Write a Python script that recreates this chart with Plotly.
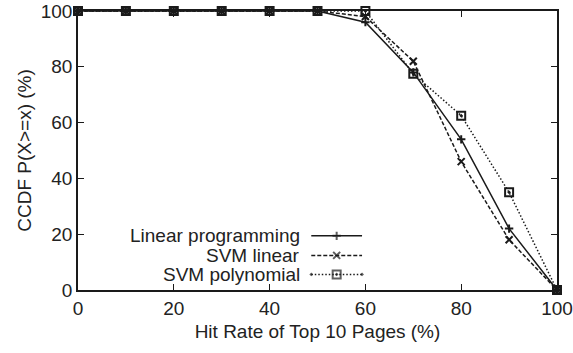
import plotly.graph_objects as go

x_vals = [0, 10, 20, 30, 40, 50, 60, 70, 80, 90, 100]
linear_prog = [100, 100, 100, 100, 100, 100, 96, 78, 54, 22, 0]
svm_linear = [100, 100, 100, 100, 100, 100, 98, 82, 46, 18, 0]
svm_poly = [100, 100, 100, 100, 100, 100, 100, 77.5, 62.5, 35, 0]

series_names = ["Linear programming", "SVM linear", "SVM polynomial"]
series_data = [linear_prog, svm_linear, svm_poly]
dashes = ["solid", "4px,2px", "1.5px,2px"]
symbols = ["cross-thin-open", "x-thin-open", "square-open-dot"]
sizes = [6, 7, 8]

col = "#1a1a1a"
fnt = dict(family="Liberation Sans, Arial, sans-serif", size=19, color="#222")

fig = go.Figure()
for name, ys, d, s, sz in zip(series_names, series_data, dashes, symbols, sizes):
    fig.add_trace(go.Scatter(
        x=x_vals, y=ys, mode="lines+markers", name=name,
        line=dict(color=col, width=1.5, dash=d),
        marker=dict(symbol=s, size=sz, color=col, line=dict(color=col, width=2)),
        showlegend=False, cliponaxis=False))

# custom legend: text on left, sample on right
leg_y = [0.194, 0.124, 0.056]
for name, ly, d, s, sz in zip(series_names, leg_y, dashes, symbols, sizes):
    fig.add_trace(go.Scatter(
        x=[0.487, 0.540, 0.593], y=[ly, ly, ly], xaxis="x2", yaxis="y2",
        mode="lines+markers", line=dict(color=col, width=1.5, dash=d),
        marker=dict(symbol=s, size=[0, sz, 0], color=col, line=dict(color=col, width=2)),
        showlegend=False, hoverinfo="skip"))
    fig.add_annotation(x=0.468, y=ly, xref="paper", yref="paper", text=name,
                       showarrow=False, xanchor="right", yanchor="middle", font=fnt)

fig.update_layout(
    width=573, height=353,
    margin=dict(l=78, r=16, t=11, b=63),
    paper_bgcolor="white", plot_bgcolor="white",
    font=fnt,
    xaxis=dict(range=[0, 100], tickvals=[0, 20, 40, 60, 80, 100], ticks="inside",
               ticklen=6, tickcolor=col, showline=True, linecolor=col, linewidth=1.5,
               mirror="ticks", showgrid=False, zeroline=False, automargin=False,
               ticklabeloverflow="allow",
               title=dict(text="Hit Rate of Top 10 Pages (%)", font=fnt, standoff=7)),
    yaxis=dict(range=[0, 100], tickvals=[0, 20, 40, 60, 80, 100], ticks="inside",
               ticklen=6, tickcolor=col, showline=True, linecolor=col, linewidth=1.5,
               mirror="ticks", showgrid=False, zeroline=False, automargin=False,
               ticklabeloverflow="allow",
               title=dict(text="CCDF P(X>=x) (%)", font=fnt, standoff=4)),
    xaxis2=dict(range=[0, 1], overlaying="x", visible=False),
    yaxis2=dict(range=[0, 1], overlaying="y", visible=False),
)

fig.write_html("out.html", config={"displayModeBar": False},
               post_script="document.body.style.margin='0';")
